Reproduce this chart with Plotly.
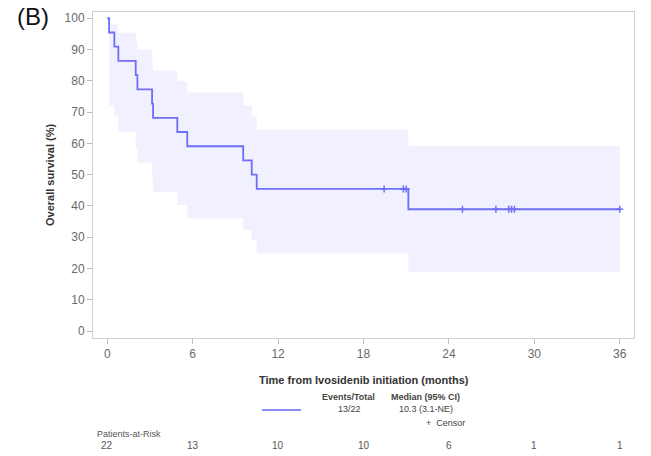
import plotly.graph_objects as go
import numpy as np

# ---- data ----
event_times = [0.13, 0.5, 0.78, 2.0, 2.12, 3.15, 3.22, 4.92, 5.62, 9.55, 10.15, 10.5, 21.15]
survival    = [95.45, 90.91, 86.36, 81.82, 77.27, 72.73, 68.18, 63.64, 59.09, 54.55, 50.0, 45.45, 38.96]
ci_upper    = [98.0, 98.0, 95.4, 92.5, 89.9, 86.0, 83.2, 79.9, 76.2, 72.1, 68.5, 64.4, 59.1]
ci_lower    = [72.2, 68.5, 63.7, 58.5, 53.9, 49.0, 44.5, 40.3, 36.0, 32.3, 29.1, 24.8, 18.8]
censor_times = [19.45, 20.8, 21.0, 24.95, 27.3, 28.2, 28.4, 28.6, 36.0]
end_time = 36.0

risk_times  = [0, 6, 12, 18, 24, 30, 36]
risk_counts = [22, 13, 10, 10, 6, 1, 1]

x_ticks = [0, 6, 12, 18, 24, 30, 36]
y_ticks = list(range(0, 101, 10))

LINE = "#6e6ef8"
BAND = "rgba(240,240,255,1)"
FONT = "Liberation Sans, Arial, sans-serif"

W, H = 651, 456
L, R, T, B = 93, 17, 12, 118
PW, PH = W - L - R, H - T - B

def px(xp):
    return (xp - L) / PW

def py(yp):
    return (H - B - yp) / PH

fig = go.Figure()

# confidence band (step)
bx = event_times + [end_time]
fig.add_trace(go.Scatter(x=bx, y=ci_upper + [ci_upper[-1]], mode="lines",
                         line=dict(width=0, shape="hv", color=BAND),
                         hoverinfo="skip", showlegend=False))
fig.add_trace(go.Scatter(x=bx, y=ci_lower + [ci_lower[-1]], mode="lines",
                         line=dict(width=0, shape="hv", color=BAND),
                         fill="tonexty", fillcolor=BAND,
                         hoverinfo="skip", showlegend=False))

# survival step curve
sx = [0] + event_times + [end_time]
sy = [100] + survival + [survival[-1]]
fig.add_trace(go.Scatter(x=sx, y=sy, mode="lines",
                         line=dict(color=LINE, width=1.8, shape="hv"),
                         showlegend=False))

# censor marks on the curve
st = np.array(event_times)
sv = np.array([100] + survival)
cens_y = [float(sv[np.searchsorted(st, t, side="right")]) for t in censor_times]
fig.add_trace(go.Scatter(x=censor_times, y=cens_y, mode="markers",
                         marker=dict(symbol="cross-thin", size=5, color=LINE,
                                     line=dict(color=LINE, width=1.5)),
                         showlegend=False))

axis_common = dict(showgrid=False, zeroline=False, showline=True, mirror=True,
                   linecolor="#cfcfcf", linewidth=1, ticks="outside", ticklen=5,
                   tickcolor="#bdbdbd",
                   tickfont=dict(family=FONT, size=12, color="#6a6a6a"))

fig.update_xaxes(range=[-1.0, 37.0], tickvals=x_ticks, **axis_common)
fig.update_yaxes(range=[-2.2, 102], tickvals=y_ticks, **axis_common)

ann = []
# panel label
ann.append(dict(text="(B)", x=px(33), y=py(16), xref="paper", yref="paper",
                showarrow=False, xanchor="center", yanchor="middle",
                font=dict(family=FONT, size=24, color="#111")))
# axis titles
ann.append(dict(text="<b>Time from Ivosidenib initiation (months)</b>",
                x=px(364), y=py(380), xref="paper", yref="paper", showarrow=False,
                xanchor="center", yanchor="middle",
                font=dict(family=FONT, size=11, color="#333")))
ann.append(dict(text="<b>Overall survival (%)</b>", textangle=-90,
                x=px(50), y=py(175), xref="paper", yref="paper", showarrow=False,
                xanchor="center", yanchor="middle",
                font=dict(family=FONT, size=11, color="#333")))
# legend block
leg_font = dict(family=FONT, size=9, color="#444")
ann.append(dict(text="<b>Events/Total</b>", x=px(348), y=py(397), xref="paper", yref="paper",
                showarrow=False, xanchor="center", yanchor="middle", font=leg_font))
ann.append(dict(text="<b>Median (95% CI)</b>", x=px(425), y=py(397), xref="paper", yref="paper",
                showarrow=False, xanchor="center", yanchor="middle", font=leg_font))
ann.append(dict(text="13/22", x=px(349), y=py(409), xref="paper", yref="paper",
                showarrow=False, xanchor="center", yanchor="middle", font=leg_font))
ann.append(dict(text="10.3 (3.1-NE)", x=px(426), y=py(409), xref="paper", yref="paper",
                showarrow=False, xanchor="center", yanchor="middle", font=leg_font))
ann.append(dict(text="+  Censor", x=px(467), y=py(423), xref="paper", yref="paper",
                showarrow=False, xanchor="right", yanchor="middle", font=leg_font))
# patients at risk
ann.append(dict(text="Patients-at-Risk", x=px(95), y=py(434), xref="paper", yref="paper",
                showarrow=False, xanchor="left", yanchor="middle",
                font=dict(family=FONT, size=9, color="#555")))
for t, n in zip(risk_times, risk_counts):
    ann.append(dict(text=str(n), x=t, y=py(445), xref="x", yref="paper",
                    showarrow=False, xanchor="center", yanchor="middle",
                    font=dict(family=FONT, size=10, color="#555")))

shapes = [dict(type="line", xref="paper", yref="paper",
               x0=px(262), x1=px(301), y0=py(410), y1=py(410),
               line=dict(color="#8c8cf8", width=2))]

fig.update_layout(width=W, height=H, margin=dict(l=L, r=R, t=T, b=B),
                  paper_bgcolor="white", plot_bgcolor="white",
                  annotations=ann, shapes=shapes, showlegend=False)

fig.write_html("out.html")
